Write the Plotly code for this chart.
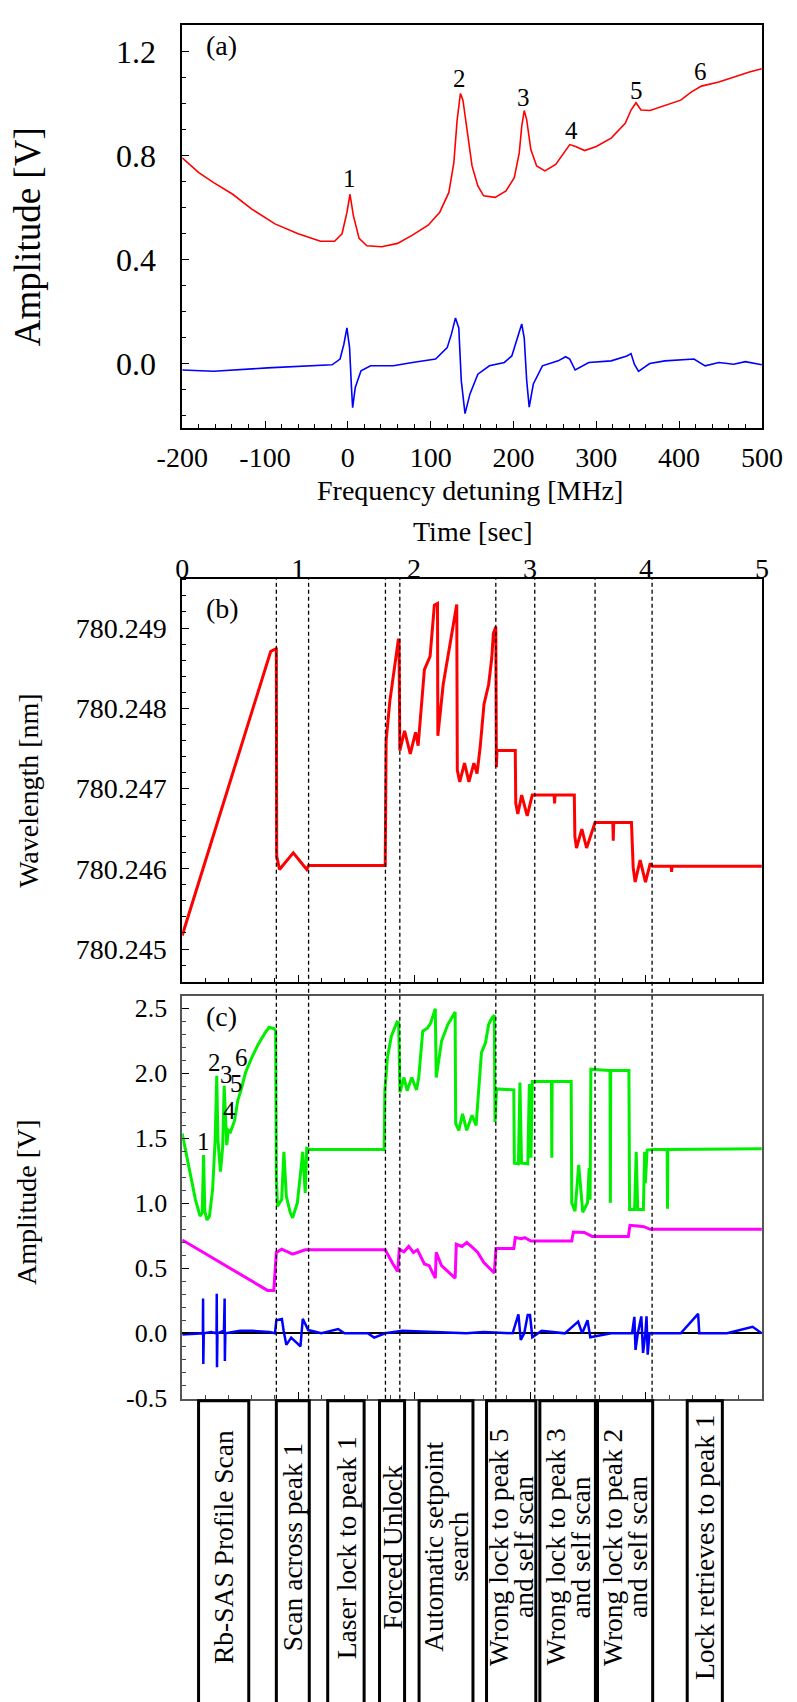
import plotly.graph_objects as go

W, H = 797, 1702
def px(x): return x / W
def py(y): return 1 - y / H

FONT = "Liberation Serif"

# ---------------- Panel (a): Rb saturated absorption spectrum ----------------
freq_red = [-200, -180, -162, -139, -116, -88, -60, -33, -16, -7, -1, 2.6, 6.7, 13.6, 23, 41,
            60, 78, 97, 111, 122, 128, 132, 136, 139, 144, 150, 157, 164, 178, 191, 201, 207,
            210, 213, 216, 221, 228, 238, 251, 261, 268, 275, 286, 300, 318, 335, 342, 348,
            354, 365, 383, 402, 415, 427, 448, 466, 485, 500]
amp_red = [0.791, 0.734, 0.696, 0.651, 0.594, 0.537, 0.499, 0.470, 0.470, 0.499, 0.582, 0.651,
           0.569, 0.481, 0.453, 0.449, 0.462, 0.494, 0.532, 0.582, 0.658, 0.772, 0.937, 1.039,
           1.013, 0.899, 0.760, 0.683, 0.645, 0.639, 0.664, 0.715, 0.810, 0.912, 0.973, 0.937,
           0.823, 0.760, 0.741, 0.766, 0.810, 0.842, 0.835, 0.819, 0.835, 0.867, 0.924, 0.975,
           1.003, 0.975, 0.973, 0.991, 1.013, 1.045, 1.067, 1.083, 1.102, 1.121, 1.134]

freq_blue = [-200, -162, -97, -51, -19, -9.4, -4.8, -1.1, 2.1, 4.4, 5.8, 9.0, 15.9, 27.5, 55,
             78, 106, 120, 125, 130, 134, 137, 141.5, 147.5, 157, 171, 189, 198, 205, 210, 213,
             216, 219, 224, 235, 254, 263, 268, 274.5, 291, 318, 337, 342, 346, 351, 364.5,
             383, 418, 431.5, 448, 466, 480, 500]
amp_blue = [-0.025, -0.030, -0.017, -0.010, -0.005, 0.017, 0.074, 0.137, 0.061, -0.092, -0.170,
            -0.092, -0.028, -0.009, -0.009, 0.004, 0.017, 0.061, 0.112, 0.175, 0.137, -0.066,
            -0.193, -0.117, -0.041, -0.009, 0.004, 0.029, 0.099, 0.152, 0.099, -0.066, -0.168,
            -0.079, -0.009, 0.010, 0.026, 0.017, -0.025, 0.004, 0.010, 0.029, 0.038, -0.003,
            -0.030, 0.0, 0.010, 0.017, -0.009, 0.004, -0.003, 0.007, -0.005]

peak_text = ["1", "2", "3", "4", "5", "6"]
peak_freq = [2.1, 134.6, 212.2, 269.9, 348.4, 425.9]
peak_amp = [0.711, 1.096, 1.024, 0.895, 1.051, 1.125]

freq_ticks = [-200, -100, 0, 100, 200, 300, 400, 500]
freq_ticktext = ["-200", "-100", "0", "100", "200", "300", "400", "500"]
amp_a_ticks = [0.0, 0.4, 0.8, 1.2]
amp_a_ticktext = ["0.0", "0.4", "0.8", "1.2"]

# ---------------- Panel (b): wavelength vs time ----------------
time_wl = [0.0, 0.763, 0.804, 0.812, 0.815, 0.839, 0.958, 1.074, 1.090, 1.751, 1.759, 1.791,
           1.864, 1.870, 1.877, 1.918, 1.967, 2.013, 2.035, 2.089, 2.138, 2.175, 2.202, 2.205,
           2.251, 2.368, 2.373, 2.394, 2.435, 2.473, 2.516, 2.543, 2.570, 2.603, 2.643, 2.670,
           2.684, 2.705, 2.710, 2.715, 2.873, 2.877, 2.895, 2.928, 2.976, 3.019, 3.041, 3.208,
           3.212, 3.216, 3.382, 3.387, 3.401, 3.447, 3.488, 3.544, 3.561, 3.714, 3.718, 3.722,
           3.875, 3.890, 3.907, 3.950, 3.996, 4.037, 4.057, 4.217, 4.221, 4.225, 5.0]
wavelength = [780.245169, 780.248708, 780.248740, 780.248740, 780.246157, 780.245992,
              780.246198, 780.245992, 780.246041, 780.246041, 780.247596, 780.248090,
              780.248852, 780.248852, 780.247473, 780.247720, 780.247432, 780.247700,
              780.247535, 780.248481, 780.248646, 780.249284, 780.249305, 780.247658,
              780.248296, 780.249292, 780.247226, 780.247082, 780.247317, 780.247082,
              780.247317, 780.247185, 780.247514, 780.248049, 780.248296, 780.248626,
              780.248934, 780.249016, 780.247267, 780.247473, 780.247473, 780.246815,
              780.246683, 780.246918, 780.246658, 780.246918, 780.246918, 780.246918,
              780.246815, 780.246918, 780.246918, 780.246403, 780.246259, 780.246494,
              780.246259, 780.246494, 780.246576, 780.246576, 780.246350, 780.246576,
              780.246576, 780.246012, 780.245835, 780.246107, 780.245835, 780.246066,
              780.246033, 780.246033, 780.245960, 780.246033, 780.246033]

wl_ticks = [780.245, 780.246, 780.247, 780.248, 780.249]
time_ticks = [0, 1, 2, 3, 4, 5]

# ---------------- Panel (c): amplitudes vs time ----------------
time_green = [0.0, 0.06, 0.114, 0.154, 0.173, 0.184, 0.195, 0.214, 0.235, 0.262, 0.284, 0.298,
              0.308, 0.33, 0.349, 0.362, 0.373, 0.384, 0.398, 0.417, 0.452, 0.479, 0.506, 0.546,
              0.60, 0.655, 0.709, 0.75, 0.79, 0.806, 0.812, 0.822, 0.858, 0.877, 0.898, 0.931,
              0.952, 0.993, 1.028, 1.039, 1.061, 1.074, 1.101, 1.742, 1.748, 1.77, 1.804, 1.853,
              1.867, 1.878, 1.913, 1.94, 1.98, 2.021, 2.04, 2.075, 2.116, 2.143, 2.183, 2.191,
              2.237, 2.291, 2.354, 2.359, 2.386, 2.418, 2.454, 2.5, 2.535, 2.562, 2.581, 2.616,
              2.643, 2.670, 2.692, 2.698, 2.711, 2.86, 2.865, 2.9, 2.913, 2.927, 2.981, 2.994,
              3.008, 3.02, 3.185, 3.188, 3.191, 3.355, 3.36, 3.388, 3.42, 3.455, 3.496, 3.51,
              3.518, 3.525, 3.69, 3.693, 3.696, 3.853, 3.859, 3.902, 3.916, 3.929, 3.978, 3.989,
              3.995, 4.01, 4.064, 4.183, 4.186, 4.189, 5.0]
amp_green = [1.536, 1.257, 1.028, 0.901, 0.926, 1.371, 0.939, 0.871, 0.901, 1.104, 1.485, 1.980,
             1.485, 1.244, 1.434, 1.904, 1.612, 1.447, 1.561, 1.549, 1.637, 1.790, 1.866, 2.005,
             2.12, 2.221, 2.302, 2.353, 2.343, 2.328, 1.206, 0.977, 1.028, 1.396, 1.053, 0.931,
             0.888, 1.002, 1.295, 1.396, 1.079, 1.422, 1.414, 1.414, 1.866, 2.12, 2.285, 2.394,
             2.39, 1.853, 1.967, 1.866, 1.967, 1.872, 1.967, 2.323, 2.348, 2.386, 2.496, 1.967,
             2.247, 2.374, 2.470, 1.612, 1.561, 1.688, 1.561, 1.676, 1.599, 1.891, 2.158, 2.234,
             2.374, 2.424, 2.445, 1.625, 1.879, 1.872, 1.308, 1.303, 1.929, 1.308, 1.303, 1.917,
             1.35, 1.937, 1.937, 1.35, 1.937, 1.937, 1.003, 0.939, 1.295, 0.931, 1.003, 1.27,
             1.028, 2.031, 2.02, 1.003, 2.02, 2.02, 0.952, 0.952, 1.396, 0.952, 0.952, 1.396,
             1.155, 1.409, 1.414, 1.414, 0.957, 1.414, 1.42]

time_mag = [0.0, 0.736, 0.79, 0.812, 0.858, 0.952, 1.061, 1.751, 1.818, 1.859, 1.872, 1.913,
            1.954, 1.994, 2.029, 2.089, 2.13, 2.183, 2.191, 2.237, 2.354, 2.364, 2.413, 2.454,
            2.494, 2.549, 2.6, 2.657, 2.692, 2.706, 2.86, 2.873, 2.927, 2.955, 3.008, 3.36,
            3.374, 3.468, 3.536, 3.848, 3.862, 3.929, 3.983, 4.037, 5.0]
amp_mag = [0.718, 0.330, 0.330, 0.622, 0.647, 0.609, 0.642, 0.642, 0.533, 0.475, 0.647, 0.627,
           0.668, 0.622, 0.642, 0.533, 0.520, 0.424, 0.622, 0.520, 0.424, 0.685, 0.668, 0.698,
           0.668, 0.622, 0.546, 0.495, 0.464, 0.652, 0.652, 0.736, 0.728, 0.736, 0.709, 0.709,
           0.779, 0.775, 0.745, 0.745, 0.83, 0.825, 0.82, 0.80, 0.80]

time_err = [0.0, 0.15, 0.178, 0.180, 0.182, 0.186, 0.25, 0.296, 0.298, 0.300, 0.304, 0.36, 0.366,
            0.368, 0.372, 0.5, 0.6, 0.75, 0.80, 0.812, 0.86, 0.875, 0.898, 0.94, 1.02, 1.04,
            1.087, 1.2, 1.345, 1.4, 1.6, 1.656, 1.75, 1.9, 2.2, 2.45, 2.6, 2.85, 2.9, 2.92, 2.95,
            2.98, 3.0, 3.02, 3.1, 3.3, 3.415, 3.45, 3.496, 3.52, 3.7, 3.88, 3.9, 3.91, 3.93, 3.96,
            3.975, 3.995, 4.005, 4.015, 4.03, 4.3, 4.45, 4.46, 4.7, 4.92, 5.0]
amp_err = [-0.01, 0.0, 0.0, 0.267, -0.236, 0.0, 0.01, 0.0, 0.305, -0.26, 0.0, 0.02, 0.267,
           -0.213, 0.0, 0.02, 0.02, 0.01, 0.0, 0.10, 0.11, 0.02, -0.089, -0.033, -0.10, 0.112,
           0.025, 0.0, 0.033, 0.0, 0.0, -0.033, 0.0, 0.02, 0.01, 0.0, 0.01, 0.0, 0.145, -0.05,
           0.0, 0.14, 0.14, -0.03, 0.02, 0.0, 0.09, 0.0, 0.10, -0.03, 0.0, 0.0, 0.127, -0.127,
           0.0, 0.13, -0.15, 0.0, 0.13, -0.165, 0.0, 0.0, 0.15, 0.0, 0.0, 0.05, 0.0]

c_label_text = ["1", "2", "3", "4", "5", "6"]
c_label_time = [0.181, 0.281, 0.384, 0.411, 0.465, 0.514]
c_label_amp = [1.472, 2.082, 1.993, 1.714, 1.922, 2.12]

amp_c_ticks = [-0.5, 0.0, 0.5, 1.0, 1.5, 2.0, 2.5]
amp_c_ticktext = ["-0.5", "0.0", "0.5", "1.0", "1.5", "2.0", "2.5"]

# event markers and stage boxes
event_times = [0.812, 1.09, 1.753, 1.877, 2.705, 3.041, 3.561, 4.053]
box_start = [0.141, 0.812, 1.255, 1.702, 2.043, 2.625, 3.085, 3.582, 4.356]
box_end = [0.574, 1.096, 1.569, 1.918, 2.508, 3.05, 3.564, 4.058, 4.659]
box_lines = [["Rb-SAS Profile Scan"], ["Scan across peak 1"], ["Laser lock to peak 1"],
             ["Forced Unlock"], ["Automatic setpoint", "search"],
             ["Wrong lock to peak 5", "and self scan"], ["Wrong lock to peak 3", "and self scan"],
             ["Wrong lock to peak 2", "and self scan"], ["Lock retrieves to peak 1"]]

for a, b in [(freq_red, amp_red), (freq_blue, amp_blue), (time_wl, wavelength),
             (time_green, amp_green), (time_mag, amp_mag), (time_err, amp_err)]:
    assert len(a) == len(b), (len(a), len(b))

fig = go.Figure()
fig.add_trace(go.Scatter(x=freq_red, y=amp_red, mode="lines", line=dict(color="#ff0000", width=1.6),
                         xaxis="x", yaxis="y"))
fig.add_trace(go.Scatter(x=freq_blue, y=amp_blue, mode="lines", line=dict(color="#0000ff", width=1.6),
                         xaxis="x", yaxis="y"))
fig.add_trace(go.Scatter(x=time_wl, y=wavelength, mode="lines", line=dict(color="#ff0000", width=3),
                         xaxis="x2", yaxis="y2"))
fig.add_trace(go.Scatter(x=[], y=[], xaxis="x4", yaxis="y2", showlegend=False))
fig.add_trace(go.Scatter(x=time_green, y=amp_green, mode="lines", line=dict(color="#00ee00", width=3),
                         xaxis="x3", yaxis="y3"))
fig.add_trace(go.Scatter(x=time_mag, y=amp_mag, mode="lines", line=dict(color="#ff00ff", width=3),
                         xaxis="x3", yaxis="y3"))
fig.add_trace(go.Scatter(x=time_err, y=amp_err, mode="lines", line=dict(color="#0000ff", width=2.5),
                         xaxis="x3", yaxis="y3"))

xdom = [px(166), px(782)]
tickfont = dict(family=FONT, size=28, color="black")
common = dict(showgrid=False, showline=True, linecolor="black", linewidth=1.5, mirror=True,
              ticks="inside", tickcolor="black", ticklen=7, zeroline=False)

layout = dict(
    width=W, height=H, margin=dict(l=0, r=0, t=0, b=0),
    paper_bgcolor="white", plot_bgcolor="white", showlegend=False,
    font=dict(family=FONT, color="black"),
    xaxis=dict(domain=xdom, anchor="y", range=[-200, 500], tickvals=freq_ticks,
               ticktext=freq_ticktext, tickfont=tickfont, ticklabelstandoff=4,
               minor=dict(dtick=20, tick0=0, ticks="inside", ticklen=4, tickcolor="black"), **common),
    yaxis=dict(domain=[py(431), py(24)], anchor="x", range=[-0.248, 1.303], tickvals=amp_a_ticks,
               ticktext=amp_a_ticktext, tickfont=dict(family=FONT, size=32, color="black"),
               ticklabelstandoff=18,
               minor=dict(dtick=0.1, tick0=0, ticks="inside", ticklen=4, tickcolor="black"), **common),
    xaxis2=dict(domain=xdom, anchor="y2", range=[0, 5], dtick=1, tick0=0, showticklabels=False,
                minor=dict(dtick=0.2, tick0=0, ticks="inside", ticklen=4, tickcolor="black"), **common),
    xaxis4=dict(domain=xdom, anchor="y2", overlaying="x2", side="top", range=[0, 5],
                tickvals=time_ticks, tickfont=tickfont, ticks="", showline=False, showgrid=False,
                zeroline=False, ticklabelstandoff=-6),
    yaxis2=dict(domain=[py(990), py(583)], anchor="x2", range=[780.244593, 780.249617],
                tickvals=wl_ticks, tickformat=".3f", tickfont=tickfont, ticklabelstandoff=8,
                minor=dict(dtick=0.0002, tick0=780.245, ticks="inside", ticklen=4, tickcolor="black"),
                **common),
    xaxis3=dict(domain=xdom, anchor="y3", range=[0, 5], dtick=1, tick0=0, showticklabels=False,
                minor=dict(dtick=0.2, tick0=0, ticks="inside", ticklen=4, tickcolor="#444"),
                **{**common, "linecolor": "#555"}),
    yaxis3=dict(domain=[py(1411), py(1004)], anchor="x3", range=[-0.503, 2.597], tickvals=amp_c_ticks,
                ticktext=amp_c_ticktext, tickfont=dict(family=FONT, size=26, color="black"),
                ticklabelstandoff=8,
                minor=dict(dtick=0.1, tick0=0, ticks="inside", ticklen=4, tickcolor="#444"),
                **{**common, "linecolor": "#555", "zeroline": True, "zerolinecolor": "black",
                   "zerolinewidth": 1.5}),
)
fig.update_layout(**layout)

shapes = []
for t in event_times:
    shapes.append(dict(type="line", xref="x2", yref="paper", x0=t, x1=t, y0=py(1411), y1=py(583),
                       line=dict(color="black", width=1.3, dash="4px,3px")))
for s, e in zip(box_start, box_end):
    shapes.append(dict(type="rect", xref="x3", yref="paper", x0=s, x1=e, y0=-0.02, y1=py(1413),
                       line=dict(color="black", width=3), fillcolor="rgba(0,0,0,0)"))
fig.update_layout(shapes=shapes)

ann = []
def txt(x, y, s, size=28, angle=0, xref="paper", yref="paper", xshift=0):
    ann.append(dict(x=x, y=y, xref=xref, yref=yref, text=s, showarrow=False, textangle=angle,
                    font=dict(family=FONT, size=size, color="black"), xanchor="center",
                    yanchor="middle", xshift=xshift))

txt(px(27), py(238), "Amplitude [V]", size=37, angle=-90, xshift=-24)
txt(px(472), py(494), "Frequency detuning [MHz]")
txt(px(475), py(536), "Time [sec]")
txt(px(28), py(797), "Wavelength [nm]", angle=-90, xshift=-24)
txt(px(26), py(1212), "Amplitude [V]", angle=-90, xshift=-24)
txt(px(208), py(45), "(a)")
txt(px(209), py(613), "(b)")
txt(px(208), py(1025), "(c)")
for s, f, a in zip(peak_text, peak_freq, peak_amp):
    txt(f, a, s, size=25, xref="x", yref="y")
for s, t, a in zip(c_label_text, c_label_time, c_label_amp):
    txt(t, a, s, size=25, xref="x3", yref="y3")
for s, e, lines in zip(box_start, box_end, box_lines):
    c = (s + e) / 2
    n = len(lines)
    for i, line in enumerate(lines):
        off = (i - (n - 1) / 2) * 25
        txt(c, py(1561), line, size=27.5, angle=-90, xref="x3", xshift=off)
fig.update_layout(annotations=ann)

fig.write_html("out.html")
